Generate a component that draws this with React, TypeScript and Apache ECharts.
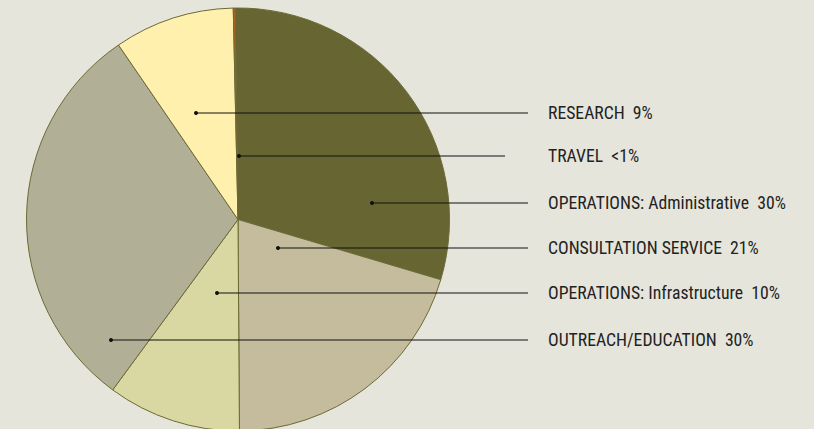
import React, { useEffect, useRef } from "react";
import * as echarts from "echarts";

// Slices, clockwise from the top
const categories = [
  "OPERATIONS: Administrative",
  "CONSULTATION SERVICE",
  "OPERATIONS: Infrastructure",
  "OUTREACH/EDUCATION",
  "RESEARCH",
  "TRAVEL",
];
const values = [29.8, 20.3, 10.2, 30.35, 9.2, 0.15];
const percentLabels = ["30%", "21%", "10%", "30%", "9%", "<1%"];
const colors = ["#676633", "#c4bc9c", "#d9d8a2", "#b1b096", "#fff0ae", "#b5621b"];

// Callout rows, top to bottom (index into categories)
const labelOrder = [4, 5, 0, 1, 2, 3];
const labelRowY = [113, 156, 203, 248, 293, 340];
const anchorX = [196, 239, 372, 278, 217, 111];
const lineEndX = [528, 505, 528, 528, 528, 528];
const textX = 548;

const FONT = "'Liberation Sans Narrow', 'Roboto Condensed', 'DejaVu Sans Condensed', 'Liberation Sans', sans-serif";

export default function App() {
  const ref = useRef<HTMLDivElement>(null);
  useEffect(() => {
    document.body.style.margin = "0";
    const chart = echarts.init(ref.current!, undefined, { renderer: "svg" });
    const graphics: any[] = [];
    labelOrder.forEach((ci, row) => {
      const y = labelRowY[row];
      graphics.push({
        type: "line",
        z: 100,
        shape: { x1: anchorX[row], y1: y, x2: lineEndX[row], y2: y },
        style: { stroke: "#111", lineWidth: 1 },
        silent: true,
      });
      graphics.push({
        type: "circle",
        z: 101,
        shape: { cx: anchorX[row], cy: y, r: 2 },
        style: { fill: "#111" },
        silent: true,
      });
      graphics.push({
        type: "text",
        z: 100,
        x: textX,
        y: y,
        style: {
          text: categories[ci] + "  " + percentLabels[ci],
          fill: "#222",
          font: `17.7px ${FONT}`,
          verticalAlign: "middle",
          align: "left",
        },
        silent: true,
      });
    });
    chart.setOption({
      animation: false,
      backgroundColor: "#e6e5dc",
      series: [
        {
          type: "pie",
          center: [238, 219.5],
          radius: 211.5,
          startAngle: 90.75,
          clockwise: true,
          label: { show: false },
          labelLine: { show: false },
          emphasis: { disabled: true },
          itemStyle: { borderColor: "#6b6a36", borderWidth: 1 },
          data: categories.map((c, i) => ({
            name: c,
            value: values[i],
            itemStyle: { color: colors[i] },
          })),
        },
      ],
      graphic: graphics,
    });
    return () => chart.dispose();
  }, []);
  return <div ref={ref} style={{ width: 814, height: 429 }} />;
}
